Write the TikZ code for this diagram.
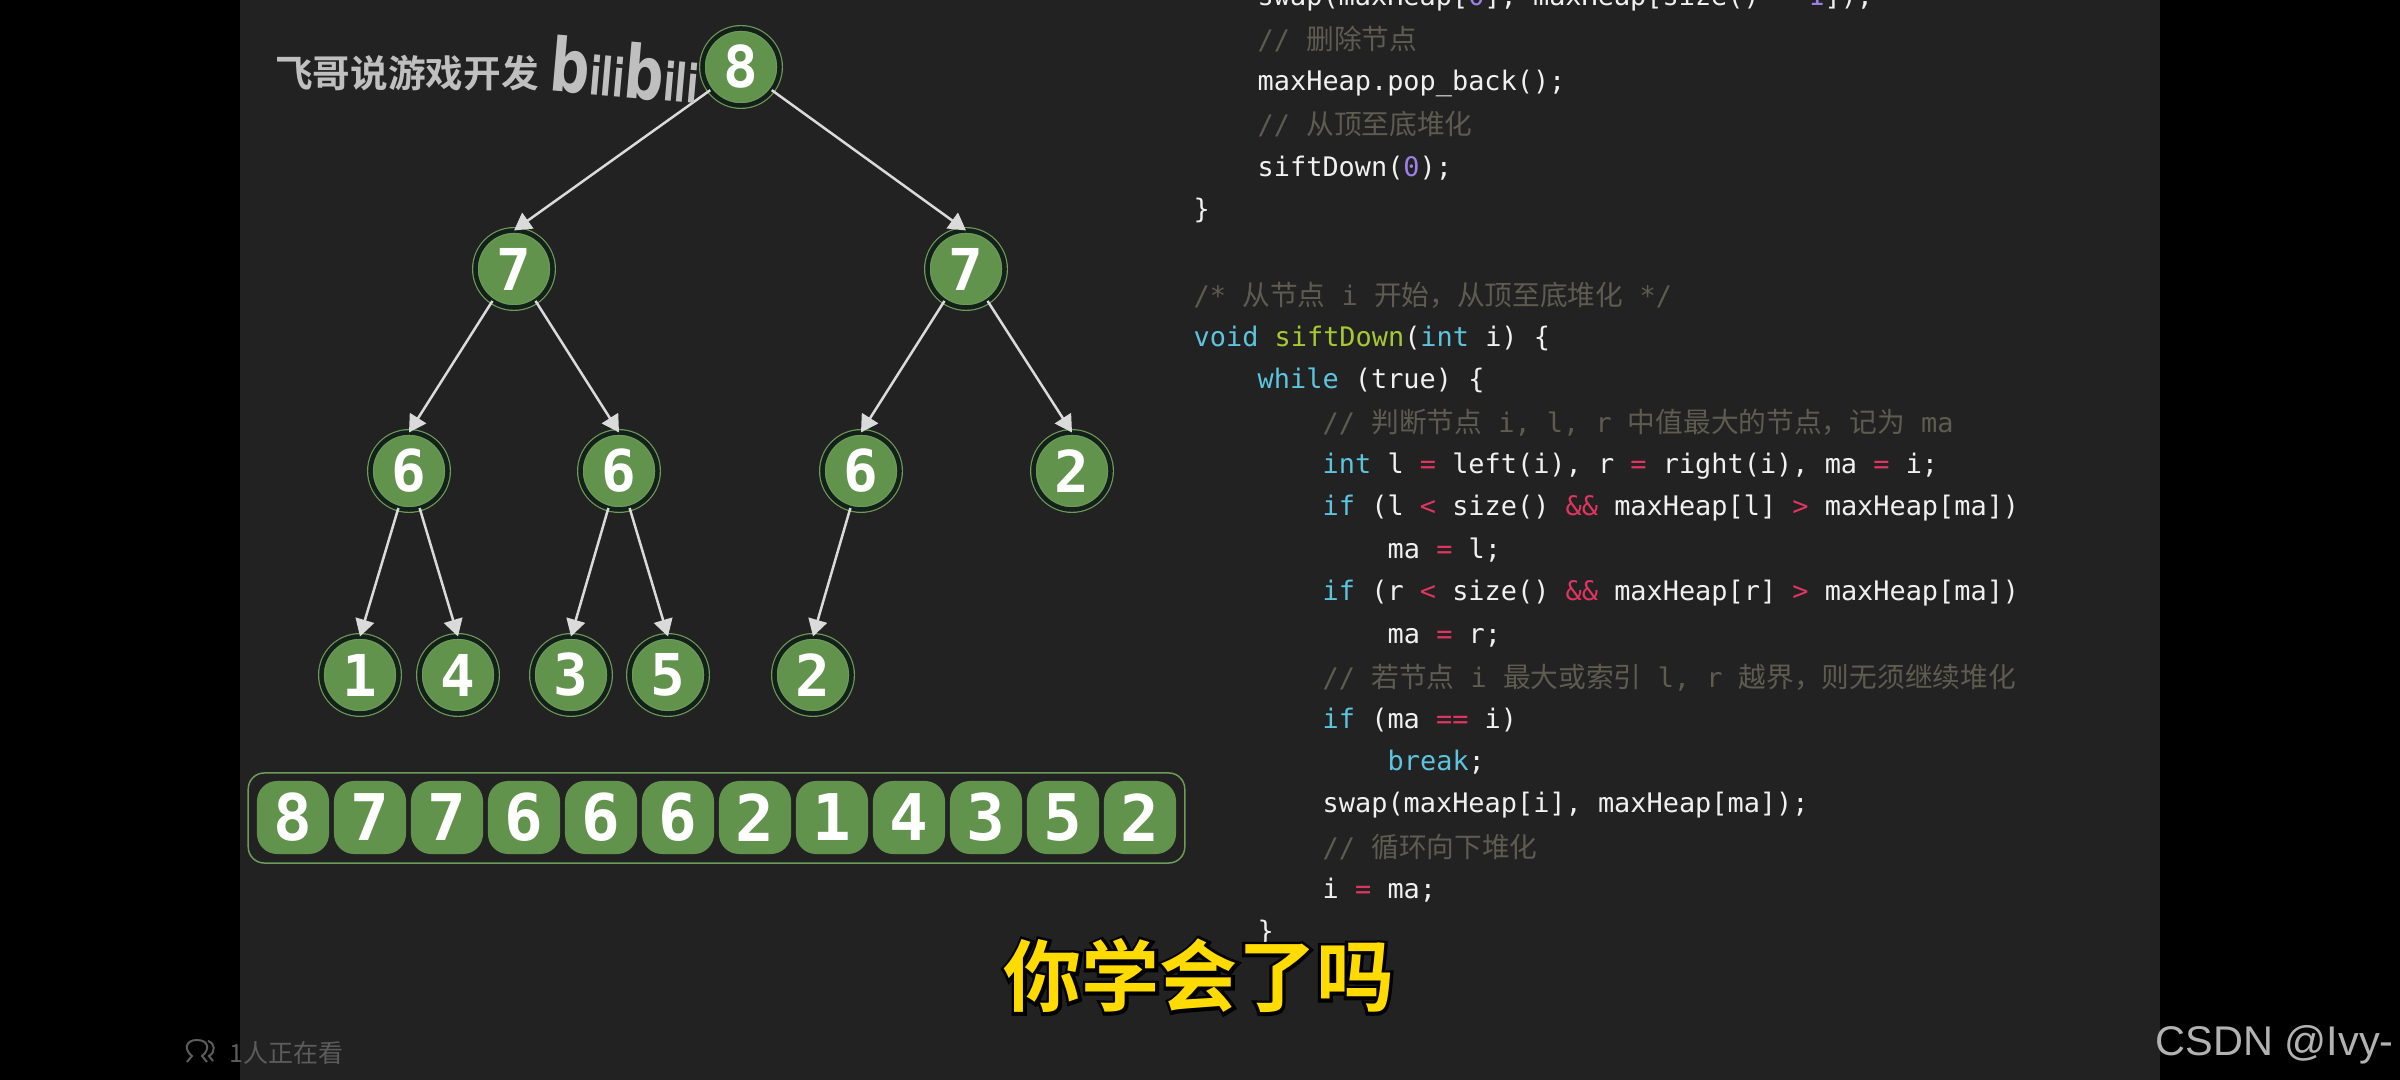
\documentclass[tikz,border=0pt]{standalone}
\usepackage{fontspec}
\setmainfont{DejaVu Sans}
\setsansfont{DejaVu Sans}
\setmonofont{DejaVu Sans Mono}
\newfontfamily\cjk[Scale=1.03]{Noto Sans CJK SC}
\newfontfamily\cjkbold{Noto Sans CJK SC Bold}
\newfontfamily\cjkrim[FakeBold=8]{Noto Sans CJK SC Bold}
\newfontfamily\arialfont{Liberation Sans}
\usepackage{tikz}
\usetikzlibrary{arrows.meta}

\definecolor{panelgray}{HTML}{222222}
\definecolor{heapgreen}{HTML}{62934D}
\definecolor{ringgreen}{HTML}{6C9C58}
\definecolor{gapdark}{HTML}{14201A}
\definecolor{edgegray}{HTML}{DADADA}
\definecolor{codewhite}{HTML}{F0F0F0}
\definecolor{codecyan}{HTML}{5CC4DE}
\definecolor{codelime}{HTML}{A6C832}
\definecolor{codered}{HTML}{E03560}
\definecolor{codepurple}{HTML}{9C80E8}
\definecolor{codegray}{HTML}{5E5C50}
\definecolor{subyellow}{HTML}{FFDB00}
\definecolor{viewgray}{HTML}{5C5C5C}

\newcommand{\kw}[1]{\textcolor{codecyan}{#1}}
\newcommand{\fn}[1]{\textcolor{codelime}{#1}}
\newcommand{\op}[1]{\textcolor{codered}{#1}}
\newcommand{\nm}[1]{\textcolor{codepurple}{#1}}
\newcommand{\cm}[1]{\textcolor{codegray}{#1}}

\tikzset{
  heapnode/.style={circle,draw=ringgreen,double=gapdark,double distance=0.45mm,line width=0.12mm,
    fill=heapgreen,minimum size=7.7mm,inner sep=0pt,outer sep=0pt,text=white,
    font=\fontsize{16.4}{18}\bfseries\ttfamily},
  cell/.style={rectangle,rounded corners=2mm,fill=heapgreen,minimum width=7.2mm,minimum height=7.3mm,
    inner sep=0pt,text=white,font=\fontsize{18.3}{20}\bfseries\ttfamily},
  edge/.style={draw=edgegray,line width=0.25mm,-{Triangle[length=1.7mm,width=1.9mm]}},
  code/.style={anchor=base west,inner sep=0pt,text=codewhite,font=\fontsize{7.65}{9}\ttfamily},
  viewer/.style={draw=viewgray,line width=0.2mm}
}

\begin{document}
\begin{tikzpicture}[x=0.01cm,y=-0.01cm]
  \useasboundingbox (0,0) rectangle (2400,1080);
  \fill[black] (0,0) rectangle (2400,1080);
  \fill[panelgray] (240,0) rectangle (2160,1080);

  % heap as a tree
  \node[heapnode] (n0) at (741,67) {8};
  \node[heapnode] (n1) at (514,269) {7}; \node[heapnode] (n2) at (966,269) {7};
  \node[heapnode] (n3) at (409,471) {6}; \node[heapnode] (n4) at (619,471) {6};
  \node[heapnode] (n5) at (861,471) {6}; \node[heapnode] (n6) at (1072,471) {2};
  \node[heapnode] (n7) at (360,675) {1}; \node[heapnode] (n8) at (458,675) {4};
  \node[heapnode] (n9) at (571,675) {3}; \node[heapnode] (n10) at (668,675) {5};
  \node[heapnode] (n11) at (813,675) {2};
  \draw[edge] (n0.217) -- (n1.north);
  \draw[edge] (n0.323) -- (n2.north);
  \draw[edge] (n1.236) -- (n3.north);
  \draw[edge] (n1.304) -- (n4.north);
  \draw[edge] (n2.236) -- (n5.north);
  \draw[edge] (n2.304) -- (n6.north);
  \draw[edge] (n3.254) -- (n7.north);
  \draw[edge] (n3.286) -- (n8.north);
  \draw[edge] (n4.254) -- (n9.north);
  \draw[edge] (n4.286) -- (n10.north);
  \draw[edge] (n5.254) -- (n11.north);

  % heap as an array
  \node[rectangle,draw=ringgreen,line width=0.15mm,rounded corners=1.6mm,minimum width=93.6mm,
    minimum height=9mm,inner sep=0pt] (arr) at (716.5,818) {};
  \node[cell] (c0) at (293,817.5) {8}; \node[cell] (c1) at (370,817.5) {7};
  \node[cell] (c2) at (447,817.5) {7}; \node[cell] (c3) at (524,817.5) {6};
  \node[cell] (c4) at (601,817.5) {6}; \node[cell] (c5) at (678,817.5) {6};
  \node[cell] (c6) at (755,817.5) {2}; \node[cell] (c7) at (832,817.5) {1};
  \node[cell] (c8) at (909,817.5) {4}; \node[cell] (c9) at (986,817.5) {3};
  \node[cell] (c10) at (1063,817.5) {5}; \node[cell] (c11) at (1140,817.5) {2};

  % code column
  \node[code] (l0) at (1257,6) {swap(maxHeap[\nm{0}], maxHeap[size() \op{-} \nm{1}]);};
  \node[code] (l1) at (1257,50) {\cm{// {\cjk 删除节点}}};
  \node[code] (l2) at (1257,91) {maxHeap.pop\_back();};
  \node[code] (l3) at (1257,135) {\cm{// {\cjk 从顶至底堆化}}};
  \node[code] (l4) at (1257,177) {siftDown(\nm{0});};
  \node[code] (l5) at (1193,219) {\}};
  \node[code] (l6) at (1193,306) {\cm{/* {\cjk 从节点} i {\cjk 开始，从顶至底堆化} */}};
  \node[code] (l7) at (1193,347) {\kw{void} \fn{siftDown}(\kw{int} i) \{};
  \node[code] (l8) at (1257,389) {\kw{while} (true) \{};
  \node[code] (l9) at (1322,433) {\cm{// {\cjk 判断节点} i, l, r {\cjk 中值最大的节点，记为} ma}};
  \node[code] (l10) at (1322,474) {\kw{int} l \op{=} left(i), r \op{=} right(i), ma \op{=} i;};
  \node[code] (l11) at (1322,516) {\kw{if} (l \op{<} size() \op{\&\&} maxHeap[l] \op{>} maxHeap[ma])};
  \node[code] (l12) at (1387,559) {ma \op{=} l;};
  \node[code] (l13) at (1322,601) {\kw{if} (r \op{<} size() \op{\&\&} maxHeap[r] \op{>} maxHeap[ma])};
  \node[code] (l14) at (1387,644) {ma \op{=} r;};
  \node[code] (l15) at (1322,688) {\cm{// {\cjk 若节点} i {\cjk 最大或索引} l, r {\cjk 越界，则无须继续堆化}}};
  \node[code] (l16) at (1322,729) {\kw{if} (ma \op{==} i)};
  \node[code] (l17) at (1387,771) {\kw{break};};
  \node[code] (l18) at (1322,813) {swap(maxHeap[i], maxHeap[ma]);};
  \node[code] (l19) at (1322,858) {\cm{// {\cjk 循环向下堆化}}};
  \node[code] (l20) at (1322,899) {i \op{=} ma;};
  \node[code] (l21) at (1257,941) {\}};

  % overlays of the video
  \node[text=black!25!white,font=\fontsize{10.7}{12}\cjkbold,inner sep=0pt] (author) at (407,73) {飞哥说游戏开发};
  \node[text=black!25!white,rotate=-5,inner sep=0pt] (logo) at (625,70)
    {\bfseries\sffamily\fontsize{21}{24}\selectfont\scalebox{.75}[1]{b}\fontsize{15}{16}\selectfont\scalebox{.64}[1]{ili}\fontsize{21}{24}\selectfont\scalebox{.75}[1]{b}\fontsize{15}{16}\selectfont\scalebox{.64}[1]{ili}};
  \node[font=\fontsize{22.2}{24}\cjkbold,inner sep=0pt] (subtitle) at (1199,976)
    {\rlap{\cjkrim\textcolor{black}{你学会了吗}}\textcolor{subyellow}{你学会了吗}};
  \node[text=viewgray,anchor=base west,font=\fontsize{6.9}{8}\cjk,inner sep=0pt] (watching) at (229,1062) {1人正在看};
  \draw[viewer] (187,1062) -- (192,1056) .. controls (184,1050) and (185,1040) .. (197,1040)
    .. controls (209,1040) and (210,1050) .. (202,1056) -- (207,1062);
  \draw[viewer] (208,1041) .. controls (215,1043) and (216,1052) .. (209,1056) -- (213,1061);
  \node[text=black!30!white,anchor=base west,font=\fontsize{11.8}{13}\arialfont,inner sep=0pt] (mark) at (2155,1055) {CSDN @Ivy-};
\end{tikzpicture}
\end{document}
